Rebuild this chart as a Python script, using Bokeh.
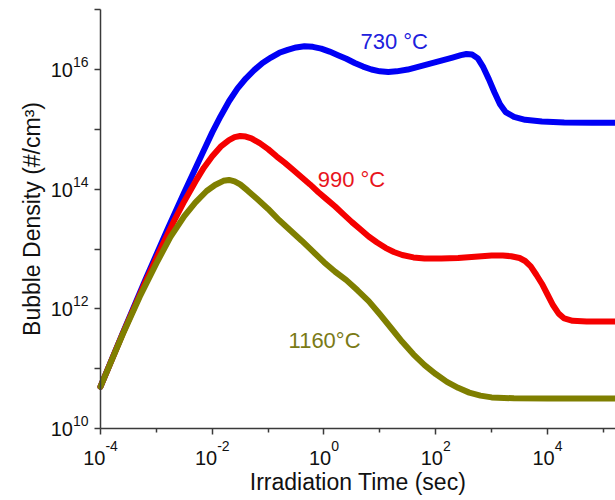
import numpy as np
from bokeh.plotting import figure
from bokeh.models import FixedTicker, CustomJSTickFormatter, Label, Range1d
from bokeh.embed import file_html
from bokeh.resources import INLINE

# ---- data: log10(time [s]) and log10(bubble density [#/cm^3]) ----
t730 = [-4.0, -3.6, -3.2, -2.8, -2.5, -2.3, -2.15, -2.0, -1.85, -1.7, -1.55, -1.4, -1.25, -1.1,
        -0.95, -0.8, -0.65, -0.5, -0.35, -0.2, -0.05, 0.1, 0.25, 0.4, 0.55, 0.7, 0.85, 1.0, 1.15,
        1.3, 1.5, 1.7, 1.9, 2.1, 2.3, 2.45, 2.55, 2.65, 2.75, 2.85, 2.95, 3.05, 3.15, 3.25, 3.4,
        3.6, 3.9, 4.3, 4.8, 5.22]
n730 = [10.70, 11.60, 12.48, 13.33, 13.95, 14.35, 14.65, 14.95, 15.22, 15.47, 15.68, 15.85, 15.99, 16.11,
        16.20, 16.28, 16.33, 16.37, 16.39, 16.38, 16.35, 16.30, 16.24, 16.18, 16.11, 16.05, 16.00, 15.97, 15.96,
        15.97, 16.00, 16.05, 16.10, 16.15, 16.20, 16.24, 16.26, 16.25, 16.19, 16.04, 15.84, 15.62, 15.42, 15.29, 15.21,
        15.16, 15.13, 15.115, 15.11, 15.11]

t990 = [-4.0, -3.6, -3.2, -2.9, -2.7, -2.5, -2.3, -2.15, -2.0, -1.85, -1.7, -1.6, -1.5, -1.4, -1.3,
        -1.15, -1.0, -0.85, -0.7, -0.55, -0.4, -0.25, -0.1, 0.05, 0.2, 0.35, 0.5, 0.65, 0.8, 0.95,
        1.1, 1.25, 1.4, 1.6, 1.8, 2.1, 2.4, 2.7, 3.0, 3.2, 3.35, 3.5, 3.6, 3.7, 3.8, 3.9, 4.0, 4.1,
        4.2, 4.3, 4.45, 4.7, 5.22]
n990 = [10.70, 11.59, 12.44, 13.05, 13.44, 13.80, 14.13, 14.36, 14.55, 14.71, 14.82, 14.87, 14.89, 14.88, 14.85,
        14.77, 14.67, 14.55, 14.44, 14.32, 14.20, 14.08, 13.95, 13.83, 13.71, 13.58, 13.45, 13.33, 13.21, 13.11,
        13.02, 12.95, 12.90, 12.86, 12.84, 12.84, 12.85, 12.87, 12.89, 12.89, 12.88, 12.85, 12.80, 12.71, 12.57, 12.42, 12.24, 12.06,
        11.92, 11.84, 11.80, 11.79, 11.79]

t1160 = [-4.0, -3.6, -3.3, -3.0, -2.75, -2.5, -2.3, -2.1, -1.95, -1.8, -1.7, -1.6, -1.5, -1.37, -1.2,
         -1.0, -0.8, -0.6, -0.4, -0.2, 0.0, 0.2, 0.4, 0.6, 0.8, 1.0, 1.2, 1.4, 1.6, 1.8, 2.0, 2.2,
         2.4, 2.6, 2.8, 3.0, 3.4, 4.0, 5.22]
n1160 = [10.70, 11.58, 12.20, 12.76, 13.20, 13.55, 13.78, 13.97, 14.07, 14.14, 14.155, 14.13, 14.08, 13.98, 13.84,
         13.67, 13.48, 13.31, 13.14, 12.96, 12.78, 12.62, 12.48, 12.31, 12.13, 11.91, 11.68, 11.45, 11.24, 11.06, 10.91, 10.78,
         10.68, 10.60, 10.55, 10.52, 10.505, 10.50, 10.50]

x_major = [1e-4, 1e-2, 1e0, 1e2, 1e4]
x_minor = [1e-3, 1e-1, 1e1, 1e3, 1e5]
y_major = [1e10, 1e12, 1e14, 1e16]
y_minor = [1e11, 1e13, 1e15, 1e17]
x_bounds = (1e-4, 10**5.217)
y_bounds = (1e10, 1e17)

FONT = "Liberation Sans"
AX = "#3a3a3a"
TXT = "#111111"
LIFT = 7.5  # vertical correction of the text anchor

# the frame fills the canvas; axes are pinned at the data origin so that
# tick labels (drawn as text annotations) are not clipped away
p = figure(width=615, height=500, x_axis_type="log", y_axis_type="log",
           x_range=Range1d(10**-5.7897, 10**5.217), y_range=Range1d(10**8.797, 10**17.154),
           output_backend="svg", toolbar_location=None,
           min_border_left=0, min_border_right=0, min_border_top=0, min_border_bottom=0)
p.outline_line_color = None
p.xgrid.visible = False
p.ygrid.visible = False

series = [(t730, n730, "#0000f5"), (t990, n990, "#f50000"), (t1160, n1160, "#7f7f00")]
for tx, ny, col in series:
    p.line(10 ** np.array(tx), 10 ** np.array(ny), line_color=col, line_width=6,
           line_join="round", line_cap="round")

blank = CustomJSTickFormatter(code="return '';")
for ax, maj, mnr, bnd, loc in [(p.xaxis[0], x_major, x_minor, x_bounds, y_bounds[0]),
                               (p.yaxis[0], y_major, y_minor, y_bounds, x_bounds[0])]:
    ax.ticker = FixedTicker(ticks=maj, minor_ticks=mnr)
    ax.formatter = blank
    ax.bounds = bnd
    ax.fixed_location = loc
    ax.axis_line_color = AX
    ax.axis_line_width = 1.5
    ax.major_tick_line_color = AX
    ax.minor_tick_line_color = AX
    ax.major_tick_line_width = 1.5
    ax.minor_tick_line_width = 1.5
    ax.major_tick_in = 0
    ax.minor_tick_in = 0
    ax.major_tick_out = 6
    ax.major_label_standoff = 0
    ax.major_label_text_font_size = "1px"
    ax.axis_label_text_font = FONT
    ax.axis_label_text_font_size = "23px"
    ax.axis_label_text_font_style = "normal"
    ax.axis_label_text_color = TXT

p.xaxis.minor_tick_out = 4
p.yaxis.minor_tick_out = 6
p.xaxis.axis_label = "Irradiation Time (sec)"
p.yaxis.axis_label = "Bubble Density (#/cm\u00b3)"
p.xaxis.axis_label_standoff = 34
p.yaxis.axis_label_standoff = 50

# ---- tick labels "10" with raised exponent ----
BASE, EXP = 20, 14


def text_width(s, size):
    return sum(0.333 if c == "-" else 0.556 for c in s) * size


for xt in x_major:
    e = str(int(round(np.log10(xt))))
    w10, we = text_width("10", BASE), text_width(e, EXP)
    left = -(w10 + we) / 2
    p.add_layout(Label(x=xt, y=y_bounds[0], x_offset=left, y_offset=-37 + LIFT, text="10",
                       text_font=FONT, text_font_size=f"{BASE}px", text_color=TXT,
                       text_align="left", text_baseline="alphabetic"))
    p.add_layout(Label(x=xt, y=y_bounds[0], x_offset=left + w10, y_offset=-25 + LIFT, text=e,
                       text_font=FONT, text_font_size=f"{EXP}px", text_color=TXT,
                       text_align="left", text_baseline="alphabetic"))

for yt in y_major:
    e = str(int(round(np.log10(yt))))
    we = text_width(e, EXP)
    p.add_layout(Label(x=x_bounds[0], y=yt, x_offset=-12, y_offset=0 + LIFT, text=e,
                       text_font=FONT, text_font_size=f"{EXP}px", text_color=TXT,
                       text_align="right", text_baseline="alphabetic"))
    p.add_layout(Label(x=x_bounds[0], y=yt, x_offset=-12 - we, y_offset=-8 + LIFT, text="10",
                       text_font=FONT, text_font_size=f"{BASE}px", text_color=TXT,
                       text_align="right", text_baseline="alphabetic"))

# ---- curve labels ----
labels = [(4.50, 10**16.35, "730 \u00b0C", "#2020dc"),
          (0.77, 10**14.03, "990 \u00b0C", "#e8141c"),
          (0.232, 10**11.34, "1160\u00b0C", "#7a7a16")]
for lx, ly, txt, col in labels:
    p.add_layout(Label(x=lx, y=ly, y_offset=LIFT, text=txt, text_color=col, text_font=FONT,
                       text_font_size="22px", text_align="left", text_baseline="alphabetic"))

open("out.html", "w").write(file_html(p, INLINE))
